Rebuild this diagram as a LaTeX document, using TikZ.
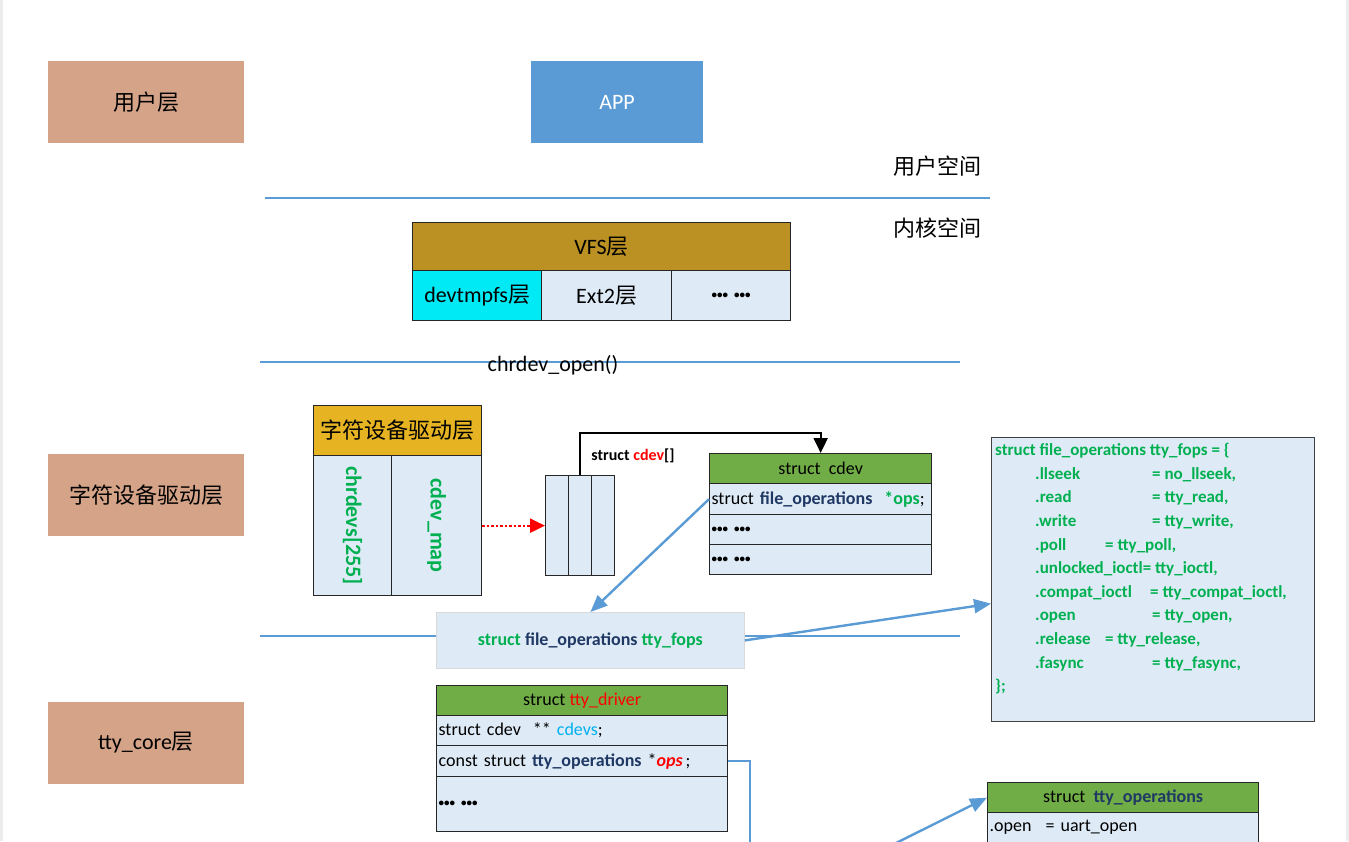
\documentclass[tikz,border=0pt]{standalone}
\usepackage{fontspec}
\setmainfont{Carlito}
\newfontfamily\cjk{Noto Sans CJK SC}
\usepackage{tikz}
\usetikzlibrary{arrows.meta, positioning}
\definecolor{layerbrown}{RGB}{213, 164, 136}
\definecolor{appblue}{RGB}{91, 155, 213}
\definecolor{vfsgold}{RGB}{188, 145, 35}
\definecolor{devcyan}{RGB}{0, 234, 245}
\definecolor{cellblue}{RGB}{222, 235, 247}
\definecolor{hdrgold}{RGB}{230, 180, 34}
\definecolor{hdrgreen}{RGB}{112, 173, 71}
\definecolor{codegreen}{RGB}{0, 176, 80}
\definecolor{codenavy}{RGB}{31, 56, 100}
\definecolor{cdevblue}{RGB}{0, 176, 240}
\definecolor{linkblue}{RGB}{91, 155, 213}
\definecolor{edgegray}{RGB}{236, 236, 236}
\newcommand\dotsgrp{{\bfseries\fontsize{11}{14}\selectfont •••\hspace{6pt}•••}}

\begin{document}
\begin{tikzpicture}[x=1pt, y=-1pt,
    lblfont/.style={font=\fontsize{22}{26}\selectfont},
    codefont/.style={font=\fontsize{18}{22}\selectfont},
    layer/.style={rectangle, fill=layerbrown, minimum width=196, minimum height=82, inner sep=0pt, lblfont},
    cell/.style={rectangle, draw=black!85, line width=1.3pt, inner sep=0pt, anchor=north west, codefont},
    rowcell/.style={cell, fill=cellblue, inner xsep=2pt, align=left},
    sepline/.style={linkblue, line width=1.8pt},
    bluearrow/.style={-{Triangle[length=17pt, width=14pt]}, linkblue, line width=2.4pt},
    bluelink/.style={linkblue, line width=2pt}]
    \clip (0,0) rectangle (1349,841);
    \fill[edgegray] (0,0) rectangle (3,841);
    \fill[edgegray] (1346,0) rectangle (1349,841);
    % layer labels
    \node[layer] (userlayer) at (146,102) {\cjk 用户层};
    \node[layer] (chrlayer) at (146,495) {\cjk 字符设备驱动层};
    \node[layer] (ttylayer) at (146,743) {tty\_core{\cjk 层}};
    \node[rectangle, fill=appblue, text=white, minimum width=172, minimum height=82, lblfont] (app) at (617,102) {APP};
    \node[lblfont] (uspace) at (937,166) {\cjk 用户空间};
    \node[lblfont] (kspace) at (937,228) {\cjk 内核空间};
    \draw[sepline] (265,198) -- (990,198);
    % VFS
    \node[cell, fill=vfsgold, minimum width=378, minimum height=48, lblfont] (vfs) at (412,222) {VFS{\cjk 层}};
    \node[cell, fill=devcyan, minimum width=129, minimum height=50, lblfont] (devtmpfs) at (412,270) {devtmpfs{\cjk 层}};
    \node[cell, fill=cellblue, minimum width=130, minimum height=50, lblfont] (ext2) at (541,270) {Ext2{\cjk 层}};
    \node[cell, fill=cellblue, minimum width=119, minimum height=50, lblfont] (vfsmore) at (671,270) {\dotsgrp};
    \draw[sepline] (260,362) -- (960,362);
    \node[lblfont] (chrdevopen) at (553,365) {chrdev\_open()};
    % char device layer
    \node[cell, fill=hdrgold, minimum width=168, minimum height=50, font=\fontsize{22}{26}\selectfont] (chrhdr) at (313,405) {\cjk 字符设备驱动层};
    \node[cell, fill=cellblue, minimum width=78, minimum height=140] (chrdevs) at (313,455) {};
    \node[cell, fill=cellblue, minimum width=90, minimum height=140] (cdevmap) at (391,455) {};
    \node[rotate=-90, text=codegreen, font=\fontsize{22}{26}\selectfont\bfseries] (chrdevstxt) at (chrdevs.center) {chrdevs[255]};
    \node[rotate=-90, text=codegreen, font=\fontsize{22}{26}\selectfont\bfseries] (cdevmaptxt) at (cdevmap.center) {cdev\_map};
    \node[cell, fill=cellblue, minimum width=23, minimum height=100] (arr1) at (545,475) {};
    \node[cell, fill=cellblue, minimum width=23, minimum height=100] (arr2) at (568,475) {};
    \node[cell, fill=cellblue, minimum width=23, minimum height=100] (arr3) at (591,475) {};
    \draw[-{Triangle[length=15pt, width=14pt]}, red, line width=2.2pt, dash pattern=on 2.5pt off 2pt] (cdevmap) -- (arr1);
    \node[font=\fontsize{16}{20}\selectfont\bfseries] (cdevarr) at (633,456) {struct \textcolor{red}{cdev}[]};
    % struct cdev
    \node[cell, fill=hdrgreen, minimum width=222, minimum height=30] (cdevhdr) at (709,453) {struct\ \ cdev};
    \node[rowcell, text width=218, minimum height=31] (cdevops) at (709,483) {struct \textcolor{codenavy}{\bfseries file\_operations}\ \ \textcolor{codegreen}{\bfseries *ops};};
    \node[rowcell, text width=218, minimum height=30] (cdevr2) at (709,514) {\dotsgrp};
    \node[rowcell, text width=218, minimum height=30] (cdevr3) at (709,544) {\dotsgrp};
    \draw[-{Triangle[length=15pt, width=14pt]}, black, line width=2pt] (arr2.north) -- ++(0,-42) -| (cdevhdr.north);
    % tty_fops
    \draw[sepline] (260,636) -- (960,636);
    \node[cell, draw=black!15, line width=0.8pt, fill=cellblue, minimum width=308, minimum height=56, font=\fontsize{18}{22}\selectfont\bfseries] (fops) at (436,612) {\textcolor{codegreen}{struct} \textcolor{codenavy}{file\_operations} \textcolor{codegreen}{tty\_fops}};
    \draw[bluearrow] (cdevops.west) -- (fops.north);
    \node[cell, fill=cellblue, draw=black!75, minimum width=323, minimum height=284] (fopsbox) at (991,437) {};
    \node[anchor=north west, inner sep=0pt, align=left, text=codegreen, font=\fontsize{17}{23.6}\selectfont\bfseries] (fopstext) at (995,443) {%
        struct file\_operations tty\_fops = \{\\
        \hspace*{40pt}\makebox[117pt][l]{.llseek}= no\_llseek,\\
        \hspace*{40pt}\makebox[117pt][l]{.read}= tty\_read,\\
        \hspace*{40pt}\makebox[117pt][l]{.write}= tty\_write,\\
        \hspace*{40pt}\makebox[70pt][l]{.poll}= tty\_poll,\\
        \hspace*{40pt}.unlocked\_ioctl= tty\_ioctl,\\
        \hspace*{40pt}\makebox[115pt][l]{.compat\_ioctl}= tty\_compat\_ioctl,\\
        \hspace*{40pt}\makebox[117pt][l]{.open}= tty\_open,\\
        \hspace*{40pt}\makebox[70pt][l]{.release}= tty\_release,\\
        \hspace*{40pt}\makebox[117pt][l]{.fasync}= tty\_fasync,\\
        \};};
    \draw[bluearrow] (fops.east) -- ([yshift=-24pt]fopsbox.west);
    % struct tty_driver
    \node[cell, fill=hdrgreen, minimum width=291, minimum height=30] (drvhdr) at (436,685) {struct \textcolor{red}{tty\_driver}};
    \node[rowcell, text width=287, minimum height=30] (drvcdevs) at (436,715) {struct cdev\ \ ** \textcolor{cdevblue}{cdevs};};
    \node[rowcell, text width=287, minimum height=31] (drvops) at (436,745) {const struct \textcolor{codenavy}{\bfseries tty\_operations} *\textcolor{red}{\bfseries\itshape ops}\,;};
    \node[rowcell, text width=287, minimum height=55] (drvmore) at (436,776) {\dotsgrp};
    \coordinate (offdown) at (750,860);
    \coordinate (offleft) at (862,860);
    \draw[bluelink] (drvops.east) -| (offdown);
    % struct tty_operations
    \node[cell, fill=hdrgreen, minimum width=271, minimum height=30] (opshdr) at (987,782) {struct\ \ \textcolor{codenavy}{\bfseries tty\_operations}};
    \node[rowcell, text width=267, minimum height=30] (opsopen) at (987,812) {\makebox[56pt][l]{.open}= uart\_open};
    \draw[bluearrow] (offleft) -- (opshdr.west);
\end{tikzpicture}
\end{document}
